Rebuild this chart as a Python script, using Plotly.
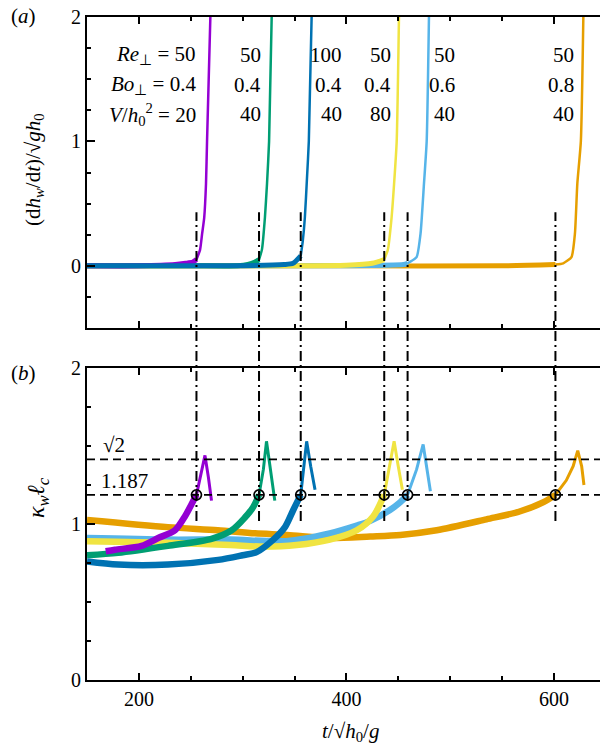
import plotly.graph_objects as go

# ---------------- data ----------------
colors = ["#9400D3", "#009E73", "#0072B2", "#F0E442", "#56B4E9", "#E69F00"]
Re_vals = [50, 50, 100, 50, 50, 50]
Bo_vals = [0.4, 0.4, 0.4, 0.4, 0.6, 0.8]
V_vals = [20, 40, 40, 80, 40, 40]
t_crit = [255.5, 315.8, 356.0, 436.5, 459.0, 601.5]
kappa_crit = 1.187

# panel (a): dh_w/dt
ta_purple = [150, 200, 235, 245, 252, 255.5, 259, 261, 263, 264.7, 265.7, 268.9]
va_purple = [0.0, 0.0, 0.01, 0.02, 0.03, 0.05, 0.13, 0.26, 0.39, 0.66, 1.0, 2.0]
ta_green = [150, 250, 295, 305, 312, 315.8, 318.6, 321.5, 323.5, 325.5, 328.0]
va_green = [0.0, 0.0, 0.0, 0.01, 0.03, 0.05, 0.13, 0.39, 0.66, 1.0, 2.0]
ta_blue = [150, 300, 340, 348.6, 356.0, 358, 360, 362, 363.8, 366.5]
va_blue = [0.0, 0.0, 0.01, 0.02, 0.08, 0.2, 0.39, 0.7, 1.0, 2.0]
ta_yellow = [150, 300, 400, 425, 436.5, 440, 443.6, 446, 448.5, 450.7]
va_yellow = [0.0, 0.0, 0.005, 0.02, 0.05, 0.13, 0.39, 0.66, 1.0, 2.0]
ta_skyblue = [150, 400, 455, 459.0, 461, 467.7, 471.5, 474.8, 477.4, 479.6]
va_skyblue = [0.0, 0.0, 0.01, 0.02, 0.03, 0.07, 0.26, 0.66, 1.0, 2.0]
ta_orange = [150, 400, 550, 601.5, 609, 617, 620.3, 622.6, 626, 628.4]
va_orange = [0.0, 0.0, 0.0, 0.01, 0.02, 0.07, 0.26, 0.66, 1.0, 2.0]

# panel (b): kappa_w * l_c
tb_purple = [168, 177, 202.7, 218.6, 234.8, 244.5, 251, 255.5, 260.5, 263.7, 267, 270]
kb_purple = [0.825, 0.835, 0.86, 0.91, 0.96, 1.05, 1.13, 1.187, 1.35, 1.44, 1.30, 1.15]
tb_green = [150, 180, 228, 270, 289.5, 302, 310.3, 315.8, 320, 323, 327, 331]
kb_green = [0.80, 0.815, 0.86, 0.905, 0.96, 1.04, 1.11, 1.187, 1.35, 1.53, 1.35, 1.15]
tb_blue = [150, 180, 228, 276.5, 300, 313.5, 329.6, 340.8, 348.8, 356.0, 358.5, 361.7, 365.6, 369.8]
kb_blue = [0.76, 0.74, 0.74, 0.77, 0.80, 0.82, 0.90, 0.98, 1.09, 1.187, 1.35, 1.53, 1.37, 1.22]
tb_yellow = [150, 228, 288, 320, 352, 384, 410, 426, 436.5, 441.4, 446, 450, 454]
kb_yellow = [0.89, 0.88, 0.865, 0.855, 0.865, 0.90, 0.96, 1.05, 1.187, 1.37, 1.53, 1.37, 1.22]
tb_skyblue = [150, 228, 288, 342, 384, 410, 423, 442, 452, 459.0, 467.7, 474, 478, 481]
kb_skyblue = [0.91, 0.90, 0.90, 0.89, 0.94, 0.99, 1.02, 1.09, 1.14, 1.187, 1.35, 1.51, 1.35, 1.21]
tb_orange = [150, 228, 276, 312, 343, 384, 423, 452, 487, 535, 567, 590, 601.5, 612, 618.6, 623, 626.8, 629]
kb_orange = [1.026, 0.98, 0.96, 0.94, 0.93, 0.91, 0.92, 0.93, 0.96, 1.03, 1.08, 1.14, 1.187, 1.28, 1.37, 1.47, 1.37, 1.25]

series_a = [(ta_purple, va_purple), (ta_green, va_green), (ta_blue, va_blue),
            (ta_yellow, va_yellow), (ta_skyblue, va_skyblue), (ta_orange, va_orange)]
series_b = [(tb_purple, kb_purple), (tb_green, kb_green), (tb_blue, kb_blue),
            (tb_yellow, kb_yellow), (tb_skyblue, kb_skyblue), (tb_orange, kb_orange)]

# ---------------- layout geometry ----------------
W, H = 600, 752
ML, MR, MT, MB = 87, 0, 17, 72
PW, PH = W - ML - MR, H - MT - MB
XPX = 1.0375  # px per unit of t
x_range = [150, 150 + PW / XPX]
dom_a = [(680 - 328) / PH, 1.0]
dom_b = [0.0, (680 - 368) / PH]
ra_a = [-0.5, 2]
ra_b = [0, 2]


def pxx(px):
    return (px - ML) / PW


def pxy(py):
    return (H - MB - py) / PH


def val2paper(v, dom, rng):
    return dom[0] + (v - rng[0]) / (rng[1] - rng[0]) * (dom[1] - dom[0])


def split(t, v, tc):
    tl = [a for a in t if a <= tc]
    vl = [b for a, b in zip(t, v) if a <= tc]
    tr = [a for a in t if a >= tc]
    vr = [b for a, b in zip(t, v) if a >= tc]
    return tl, vl, tr, vr


FONT = "Liberation Serif, Times New Roman, serif"
fig = go.Figure()

draw_order = [5, 4, 3, 1, 0, 2]
for i in draw_order:
    t, v = series_a[i]
    tl, vl, tr, vr = split(t, v, t_crit[i])
    fig.add_trace(go.Scatter(x=tl, y=vl, mode="lines",
                             line=dict(color=colors[i], width=5, shape="spline", smoothing=0.6),
                             xaxis="x", yaxis="y", showlegend=False, hoverinfo="skip"))
    fig.add_trace(go.Scatter(x=tr, y=vr, mode="lines",
                             line=dict(color=colors[i], width=2.5, shape="spline", smoothing=0.5),
                             xaxis="x", yaxis="y", showlegend=False, hoverinfo="skip"))

draw_order_b = [5, 4, 3, 1, 0, 2]
for i in draw_order_b:
    t, v = series_b[i]
    tl, vl, tr, vr = split(t, v, t_crit[i])
    fig.add_trace(go.Scatter(x=tl, y=vl, mode="lines",
                             line=dict(color=colors[i], width=6.5, shape="spline", smoothing=0.8),
                             xaxis="x2", yaxis="y2", showlegend=False, hoverinfo="skip"))
    fig.add_trace(go.Scatter(x=tr, y=vr, mode="lines", line=dict(color=colors[i], width=3),
                             xaxis="x2", yaxis="y2", showlegend=False, hoverinfo="skip"))

# circles at critical points
fig.add_trace(go.Scatter(x=t_crit, y=[kappa_crit] * len(t_crit), mode="markers",
                         marker=dict(symbol="circle-open", size=10, color="black",
                                     line=dict(width=1.7, color="black")),
                         xaxis="x2", yaxis="y2", showlegend=False, hoverinfo="skip"))

shapes = []
# horizontal dashed lines
for yv in [2 ** 0.5, kappa_crit]:
    shapes.append(dict(type="line", xref="x2 domain", yref="y2", x0=0, x1=1, y0=yv, y1=yv,
                       line=dict(color="black", width=1.8, dash="8px,5px")))
# vertical dash-dot lines crossing both panels
y_lo = val2paper(1.02, dom_b, ra_b)
y_hi = val2paper(0.43, dom_a, ra_a)
for tc in t_crit:
    shapes.append(dict(type="line", xref="x", yref="paper", x0=tc, x1=tc, y0=y_lo, y1=y_hi,
                       line=dict(color="black", width=2, dash="10px,4px,2px,4px")))

annotations = []
f21 = dict(family=FONT, size=21, color="black")
# parameter table
row_py = [55, 85, 114]
col_px = [198, 263, 344, 393, 457, 576]
for j in range(6):
    if j == 0:
        texts = ["<i>Re</i><sub>⊥</sub> = %g" % Re_vals[j],
                 "<i>Bo</i><sub>⊥</sub> = %g" % Bo_vals[j],
                 "<i>V</i>/<i>h</i><sub>0</sub><sup>2</sup> = %g" % V_vals[j]]
    else:
        texts = ["%g" % Re_vals[j], "%g" % Bo_vals[j], "%g" % V_vals[j]]
    for r in range(3):
        annotations.append(dict(text=texts[r], xref="paper", yref="paper", x=pxx(col_px[j]),
                                y=pxy(row_py[r]), xanchor="right", yanchor="middle",
                                showarrow=False, font=f21))

# panel labels
annotations.append(dict(text="(<i>a</i>)", xref="paper", yref="paper", x=pxx(9), y=pxy(16),
                        xanchor="left", yanchor="middle", showarrow=False, font=f21))
annotations.append(dict(text="(<i>b</i>)", xref="paper", yref="paper", x=pxx(9), y=pxy(373),
                        xanchor="left", yanchor="middle", showarrow=False, font=f21))
# line labels
annotations.append(dict(text="√2", xref="paper", yref="paper", x=pxx(101), y=pxy(445),
                        xanchor="left", yanchor="middle", showarrow=False, font=f21))
annotations.append(dict(text="1.187", xref="paper", yref="paper", x=pxx(99), y=pxy(481),
                        xanchor="left", yanchor="middle", showarrow=False, font=f21))
# axis titles
annotations.append(dict(text="(d<i>h</i><sub><i>w</i></sub>/d<i>t</i>)/√<i>gh</i><sub>0</sub>",
                        xref="paper", yref="paper", x=pxx(34), y=pxy(170), textangle=-90,
                        xanchor="center", yanchor="middle", showarrow=False,
                        font=dict(family=FONT, size=21, color="black")))
annotations.append(dict(text="<i>κ</i><sub><i>w</i></sub><i>ℓ</i><sub><i>c</i></sub>",
                        xref="paper", yref="paper", x=pxx(38), y=pxy(498), textangle=-90,
                        xanchor="center", yanchor="middle", showarrow=False,
                        font=dict(family=FONT, size=24, color="black")))
annotations.append(dict(text="<i>t</i>/√<i>h</i><sub>0</sub>/<i>g</i>",
                        xref="paper", yref="paper", x=pxx(350), y=pxy(732),
                        xanchor="center", yanchor="middle", showarrow=False,
                        font=dict(family=FONT, size=21, color="black")))

f20 = dict(family=FONT, size=20, color="black")
xcommon = dict(range=x_range, tick0=200, dtick=200, ticks="inside", ticklen=7, tickwidth=1.8,
               tickcolor="black", showline=True, linewidth=2, linecolor="black",
               mirror="allticks", showgrid=False, zeroline=False,
               minor=dict(dtick=50, tick0=150, ticks="inside", ticklen=4, tickwidth=1.5,
                          tickcolor="black"),
               tickfont=f20)
ycommon = dict(tickvals=[0, 1, 2], ticks="inside", ticklen=8, tickwidth=1.8, tickcolor="black",
               showline=True, linewidth=2, linecolor="black", showgrid=False, zeroline=False,
               minor=dict(dtick=0.25, tick0=0, ticks="inside", ticklen=4, tickwidth=1.5,
                          tickcolor="black"),
               tickfont=f20)

fig.update_layout(
    width=W, height=H, margin=dict(l=ML, r=MR, t=MT, b=MB, pad=0),
    paper_bgcolor="white", plot_bgcolor="white",
    xaxis=dict(domain=[0, 1], anchor="y", showticklabels=False, **xcommon),
    yaxis=dict(domain=dom_a, anchor="x", range=ra_a, **ycommon),
    xaxis2=dict(domain=[0, 1], anchor="y2", showticklabels=True, **xcommon),
    yaxis2=dict(domain=dom_b, anchor="x2", range=ra_b, **ycommon),
    shapes=shapes, annotations=annotations,
    font=dict(family=FONT, size=20, color="black"),
)

fig.write_html("out.html")
